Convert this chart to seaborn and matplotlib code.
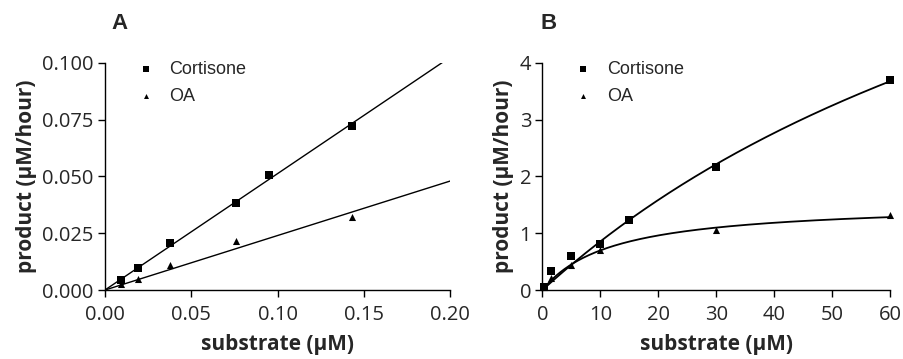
"""Enzyme kinetics: product formation vs substrate (panels A and B)"""
import numpy as np
import pandas as pd
import matplotlib
matplotlib.use('Agg')
import matplotlib.pyplot as plt
import seaborn as sns

# Panel A - low substrate range, linear fits
a_cort_x = [0.0095, 0.019, 0.038, 0.076, 0.095, 0.143]
a_cort_y = [0.0045, 0.0098, 0.0207, 0.0382, 0.0507, 0.0720]
a_oa_x = [0.0095, 0.019, 0.038, 0.076, 0.143]
a_oa_y = [0.0025, 0.0050, 0.0110, 0.0215, 0.0320]

# Panel B - full substrate range, Michaelis-Menten fits
b_cort_x = [0.2, 1.5, 5, 10, 15, 30, 60]
b_cort_y = [0.05, 0.34, 0.60, 0.81, 1.23, 2.16, 3.70]
b_oa_x = [0.2, 1.5, 5, 10, 30, 60]
b_oa_y = [0.05, 0.22, 0.45, 0.70, 1.05, 1.32]

A_XTICKS = [0.00, 0.05, 0.10, 0.15, 0.20]
A_YTICKS = [0.000, 0.025, 0.050, 0.075, 0.100]
B_XTICKS = [0, 10, 20, 30, 40, 50, 60]
B_YTICKS = [0, 1, 2, 3, 4]

SERIES = ['Cortisone', 'OA']
MARKERS = {'Cortisone': 's', 'OA': '^'}
SIZES = {'Cortisone': 34, 'OA': 26}


def slope_through_origin(x, y):
    x, y = np.asarray(x), np.asarray(y)
    return (x * y).sum() / (x * x).sum()


def fit_mm(x, y):
    """Least-squares Michaelis-Menten fit (grid over Km, Vmax solved linearly)"""
    x, y = np.asarray(x, float), np.asarray(y, float)
    best = None
    for km in np.linspace(0.5, 300, 6000):
        f = x / (km + x)
        vmax = (f * y).sum() / (f * f).sum()
        err = ((vmax * f - y) ** 2).sum()
        if best is None or err < best[0]:
            best = (err, vmax, km)
    return best[1], best[2]


def points_df(cx, cy, ox, oy):
    return pd.DataFrame({
        'x': list(cx) + list(ox),
        'y': list(cy) + list(oy),
        'series': ['Cortisone'] * len(cx) + ['OA'] * len(ox),
    })


sns.set_style('ticks')
plt.rcParams['font.family'] = ['Open Sans', 'DejaVu Sans']

fig = plt.figure(figsize=(9.04, 3.59), dpi=100)
ax_a = fig.add_axes([0.116, 0.192, 0.382, 0.633])
ax_b = fig.add_axes([0.600, 0.192, 0.385, 0.633])

# ---- Panel A ----
df_a = points_df(a_cort_x, a_cort_y, a_oa_x, a_oa_y)
xs = np.linspace(0, 0.2, 50)
for name, (x, y) in zip(SERIES, [(a_cort_x, a_cort_y), (a_oa_x, a_oa_y)]):
    k = slope_through_origin(x, y)
    sns.lineplot(x=xs, y=k * xs, ax=ax_a, color='black', lw=1.0, legend=False)

# ---- Panel B ----
df_b = points_df(b_cort_x, b_cort_y, b_oa_x, b_oa_y)
xs = np.linspace(0, 60, 300)
for name, (x, y) in zip(SERIES, [(b_cort_x, b_cort_y), (b_oa_x, b_oa_y)]):
    vmax, km = fit_mm(x, y)
    sns.lineplot(x=xs, y=vmax * xs / (km + xs), ax=ax_b, color='black', lw=1.3, legend=False)

for ax, df in [(ax_a, df_a), (ax_b, df_b)]:
    for name in SERIES:
        sub = df[df['series'] == name]
        ax.scatter(sub['x'], sub['y'], marker=MARKERS[name], s=SIZES[name],
                   color='black', linewidths=0, label=name, zorder=3, clip_on=False)
    ax.legend(loc='upper left', bbox_to_anchor=(0.04, 1.08), frameon=False,
              prop={'family': 'Liberation Sans', 'size': 13},
              handletextpad=0.7, labelspacing=0.55,
              handlelength=1.2, markerscale=0.7)
    ax.set_xlabel('substrate (μM)', fontsize=15, fontweight='bold', labelpad=6)
    ax.set_ylabel('product (μM/hour)', fontsize=15, fontweight='bold', labelpad=4)
    ax.tick_params(axis='both', labelsize=14.5, length=5, width=1, direction='out',
                   color='black', pad=3)
    ax.tick_params(axis='x', pad=6)
    for sp in ['left', 'bottom']:
        ax.spines[sp].set_linewidth(1.0)
        ax.spines[sp].set_color('black')
    sns.despine(ax=ax)

ax_a.set_xlim(0, 0.2)
ax_a.set_ylim(0, 0.1)
ax_a.set_xticks(A_XTICKS)
ax_a.set_xticklabels([f'{t:.2f}' for t in A_XTICKS])
ax_a.set_yticks(A_YTICKS)
ax_a.set_yticklabels([f'{t:.3f}' for t in A_YTICKS])

ax_b.set_xlim(0, 60)
ax_b.set_ylim(0, 4)
ax_b.set_xticks(B_XTICKS)
ax_b.set_yticks(B_YTICKS)

fig.text(0.123, 0.935, 'A', fontsize=16, fontweight='bold', ha='left', va='center',
         family='Liberation Sans')
fig.text(0.598, 0.935, 'B', fontsize=16, fontweight='bold', ha='left', va='center',
         family='Liberation Sans')

fig.savefig('out.png', dpi=100)
